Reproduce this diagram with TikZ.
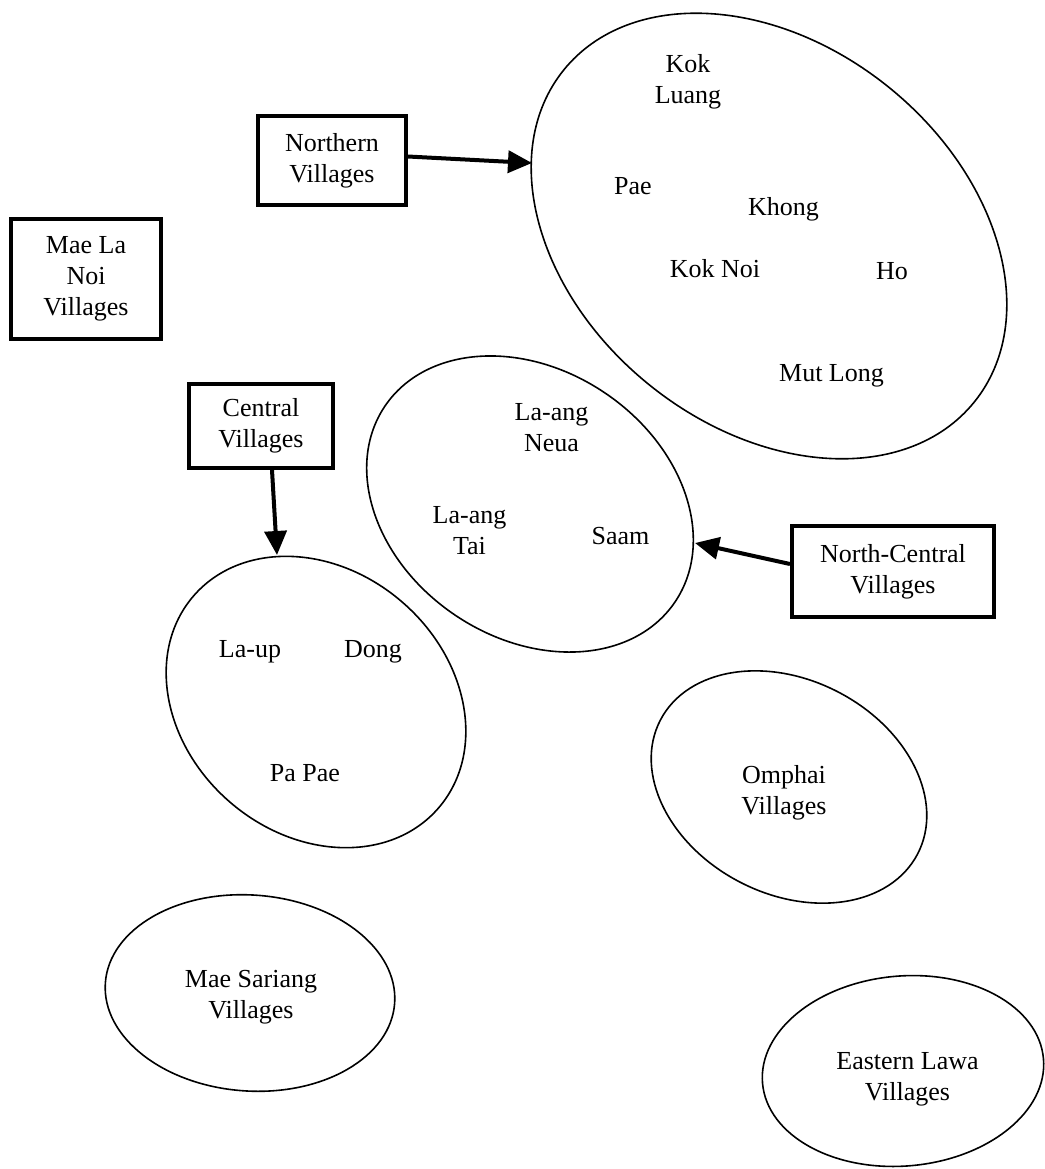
\documentclass[tikz,border=0pt]{standalone}
\usepackage{fontspec}
\setmainfont{Liberation Serif}
\usetikzlibrary{shapes.geometric,arrows.meta}

\begin{document}
\begin{tikzpicture}[x=0.5pt,y=-0.5pt,
  lbl/.style={font=\fontsize{13}{15.5}\selectfont, align=center, inner sep=0pt},
  tag/.style={lbl, draw, line width=2pt},
  cluster/.style={ellipse, draw, line width=0.8pt, inner sep=0pt, outer sep=0pt},
  arr/.style={line width=2pt, -{Triangle[length=12pt,width=11pt]}}]

  \useasboundingbox (0,0) rectangle (1045,1169);

  % Village clusters
  \node[cluster, rotate=-39,  minimum width=264pt, minimum height=191pt] (north)   at (769,236)  {};
  \node[cluster, rotate=-34,  minimum width=175pt, minimum height=134pt] (laang)   at (530,504)  {};
  \node[cluster, rotate=-41,  minimum width=162pt, minimum height=132pt] (central) at (316,702)  {};
  \node[cluster, rotate=-27.5,minimum width=145pt, minimum height=107pt] (omphai)  at (789,787)  {};
  \node[cluster, rotate=-4,   minimum width=145pt, minimum height=98pt]  (sariang) at (250,993)  {};
  \node[cluster, rotate=5,    minimum width=141pt, minimum height=95pt]  (eastern) at (903,1071) {};

  % Boxes
  \node[tag, minimum width=74pt, minimum height=44.5pt]  (nbox)  at (332,160.5) {Northern\\Villages};
  \node[tag, minimum width=75pt, minimum height=60pt]    (mbox)  at (86,279)    {Mae La\\Noi\\Villages};
  \node[tag, minimum width=72pt, minimum height=42pt]    (cbox)  at (261,426)   {Central\\Villages};
  \node[tag, minimum width=101pt, minimum height=45.5pt] (ncbox) at (893,571.5) {North-Central\\Villages};

  % Arrow tips on the ellipses
  \coordinate (ntip)  at (532,163);
  \coordinate (ctip)  at (277,555);
  \coordinate (nctip) at (695,543);

  \draw[arr] ([yshift=2pt]nbox.east) -- (ntip);
  \draw[arr] ([xshift=5.5pt]cbox.south) -- (ctip);
  \draw[arr] ([yshift=3.75pt]ncbox.west) -- (nctip);

  % Northern villages
  \node[lbl] (kokluang) at (688,81.5)  {Kok\\Luang};
  \node[lbl] (pae)      at (633,186)   {Pae};
  \node[lbl] (khong)    at (783.5,209.5) {Khong};
  \node[lbl] (koknoi)   at (715,268.5) {Kok Noi};
  \node[lbl] (ho)       at (892,271.5) {Ho};
  \node[lbl] (mutlong)  at (831.5,376) {Mut Long};

  % North-central villages
  \node[lbl] (neua) at (551.5,428) {La-ang\\Neua};
  \node[lbl] (tai)  at (469.5,531) {La-ang\\Tai};
  \node[lbl] (saam) at (620.5,536) {Saam};

  % Central villages
  \node[lbl] (laup)  at (250,652) {La-up};
  \node[lbl] (dong)  at (373,652) {Dong};
  \node[lbl] (papae) at (305,773) {Pa Pae};

  % Other groups
  \node[lbl] (omphaitxt)  at (784,792.5)  {Omphai\\Villages};
  \node[lbl] (sariangtxt) at (251,997.5)  {Mae Sariang\\Villages};
  \node[lbl] (easterntxt) at (907.5,1079) {Eastern Lawa\\Villages};

\end{tikzpicture}
\end{document}
